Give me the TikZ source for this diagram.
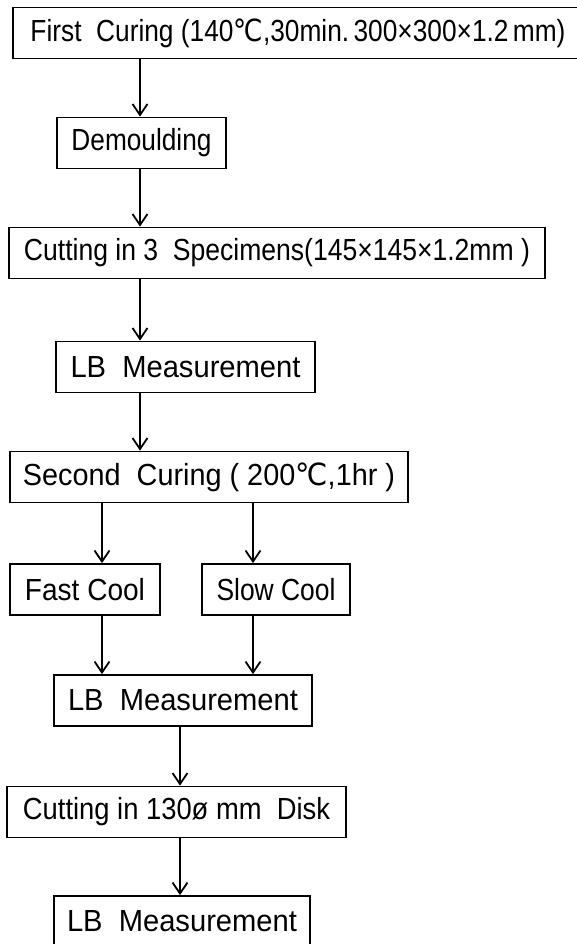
\documentclass[tikz,border=0pt]{standalone}
\usepackage{fontspec}
\usepackage{graphicx}
\setmainfont{Liberation Sans}
\newfontfamily\degfont{DejaVu Sans}
\usetikzlibrary{arrows.meta}
\newcommand{\degC}{{\degfont ℃}}
\newcommand{\fitto}[2]{\resizebox{#1pt}{\height}{#2}}

\begin{document}
\begin{tikzpicture}[x=1pt,y=-1pt,
    stage/.style={draw, line width=1.8pt, inner sep=0pt, minimum height=51pt,
      font=\fontsize{30.5}{33}\selectfont},
    flow/.style={line width=1.8pt, -{Straight Barb[length=11pt,width=15pt,line width=1.8pt]}}]
  \clip (0,0) rectangle (577,944);

  % process boxes: name / centre x / centre y / box width / text width / label
  \foreach \nm/\cx/\cy/\bw/\tw/\txt in {
      first/298/33/570/535/{First\ \ Curing (140\degC,30min.\,300×300×1.2\,mm)},
      demould/141.5/143/169/140/{Demoulding},
      cutthree/277/253/536/506/{Cutting in 3\ \ Specimens(145×145×1.2mm\ )},
      lbone/185.5/367/259/230/{LB\ \ Measurement},
      second/209/477/398/372/{Second\ \ Curing (\ 200\degC,1hr\ )},
      fast/85/589.5/150/120/{Fast Cool},
      slow/276/589.5/148/119/{Slow Cool},
      lbtwo/183/700.5/258/230/{LB\ \ Measurement},
      disk/176.5/812/339/307/{Cutting\ in 130ø mm\ \ Disk},
      lbthree/182/921.5/256/230/{LB\ \ Measurement}} {
    \node[stage, minimum width=\bw pt] (\nm) at (\cx,\cy) {\fitto{\tw}{\txt}};
  }

  % arrow columns
  \coordinate (colA) at (140,0);
  \coordinate (colB) at (102,0);
  \coordinate (colC) at (253,0);
  \coordinate (colD) at (180,0);

  % connectors
  \foreach \a/\b/\c in {first/demould/colA, demould/cutthree/colA, cutthree/lbone/colA,
      lbone/second/colA, second/fast/colB, second/slow/colC, fast/lbtwo/colB,
      slow/lbtwo/colC, lbtwo/disk/colD, disk/lbthree/colD} {
    \draw[flow] (\a.south -| \c) -- (\b.north -| \c);
  }
\end{tikzpicture}
\end{document}
